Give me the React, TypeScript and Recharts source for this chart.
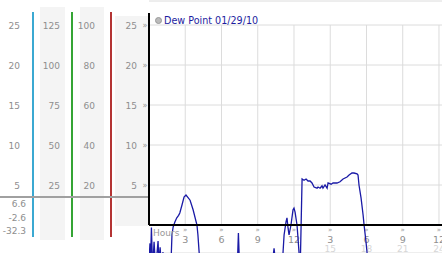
import { CartesianGrid, Line, LineChart, ReferenceLine, XAxis, YAxis } from "recharts"

// hours since midnight, dew point in the plotted unit
const hours = [
  0, 0.08, 0.13, 0.2, 0.3, 0.42, 0.55, 0.75, 0.83, 0.92, 1.02, 1.16, 1.35, 1.6, 1.82, 1.9, 2.0, 2.15,
  2.3, 2.45, 2.55, 2.73, 2.9, 3.06, 3.25, 3.4, 3.65, 3.97, 4.05, 4.14, 4.3, 5.0, 6.0, 7.0, 7.3, 7.4,
  7.5, 8.5, 9.5, 10.2, 10.35, 10.5, 11.05, 11.18, 11.34, 11.42, 11.51, 11.59, 11.75, 11.92, 12.0,
  12.09, 12.25, 12.33, 12.42, 12.52, 12.67, 12.83, 13.0, 13.16, 13.33, 13.49, 13.66, 13.91, 13.99,
  14.16, 14.32, 14.4, 14.57, 14.74, 14.82, 15.07, 15.23, 15.56, 15.81, 16.06, 16.39, 16.56, 16.8,
  16.97, 17.22, 17.3, 17.38, 17.55, 17.72, 17.8, 17.96, 18.05, 18.3, 19.5, 21.0, 22.5, 24.0,
]
const dewPoint = [
  -4.6, -2.3, -4.6, -0.3, -5.5, -2.1, -5.5, -2.0, -5.0, -2.8, -5.0, -3.4, -6.2, -7.0, -4.8, -1.25,
  -0.25, 0.4, 0.9, 1.2, 1.5, 2.5, 3.5, 3.75, 3.4, 3.1, 1.9, 0.0, -1.25, -3.2, -6.5, -9.0, -8.5, -7.0,
  -5.5, -1.0, -5.5, -7.5, -6.5, -5.0, -2.9, -5.0, -4.5, -1.25, 0.4, 0.9, -0.4, -1.25, 0.0, 1.9, 2.1,
  1.6, 0.0, -1.6, -3.5, -5.0, 5.75, 5.6, 5.75, 5.5, 5.5, 5.25, 4.75, 4.6, 4.75, 4.6, 4.9, 4.6, 5.0,
  4.6, 5.25, 5.1, 5.25, 5.25, 5.4, 5.75, 6.0, 6.25, 6.5, 6.5, 6.4, 6.25, 5.0, 3.4, 1.25, 0.0, -2.1,
  -3.5, -6.0, -9.0, -11.0, -12.0, -10.0,
]

const dewTicks = [5, 10, 15, 20, 25]
const scale2Ticks = [25, 50, 75, 100, 125]
const scale3Ticks = [20, 40, 60, 80, 100]
const hourTicks = [3, 6, 9, 12, 15, 18, 21, 24]
const readouts = ["6.6", "-2.6", "-32.3"]
const legendLabel = "Dew Point 01/29/10"

const data = hours.map((h, i) => ({ h, dp: dewPoint[i] }))

const FONT = "DejaVu Sans, Verdana, sans-serif"
const LABEL = "#8e8e8e"

function ScaleTick({ x, y, payload, marker }: any) {
  return (
    <g fontFamily={FONT}>
      <text x={x} y={y} dy={3.5} textAnchor="end" fontSize={9} fill={LABEL}>
        {payload.value}
      </text>
      {marker && (
        <text x={x + 8} y={y} dy={2.5} textAnchor="middle" fontSize={8} fill="#999">
          »
        </text>
      )}
    </g>
  )
}

function HourLabel({ viewBox, hour }: any) {
  const { x, y, height } = viewBox
  const base = y + height
  return (
    <g fontFamily={FONT}>
      <text x={x} y={base + 6.5} textAnchor="middle" fontSize={7} fill="#999">»</text>
      <text x={x} y={base + 17.5} textAnchor="middle" fontSize={9.5} fill={LABEL}>
        {hour > 12 ? hour - 12 : hour}
      </text>
      {hour > 12 && (
        <text x={x} y={base + 27} textAnchor="middle" fontSize={9} fill="#d6d6d6">
          {hour}
        </text>
      )}
    </g>
  )
}

function HoursTitle({ viewBox }: any) {
  return (
    <text x={viewBox.x + 4} y={viewBox.y + 11} fontFamily={FONT} fontSize={9} fill="#999">
      Hours
    </text>
  )
}

const box = (s: React.CSSProperties): React.CSSProperties => ({ position: "absolute", ...s })

export default function App() {
  return (
    <div style={{ position: "relative", width: 442, height: 253, overflow: "hidden", background: "#fff" }}>
      <style>{"body{margin:0}"}</style>
      {/* scale columns */}
      <div style={box({ left: 40, top: 7, width: 25, height: 233, background: "#f4f4f4" })} />
      <div style={box({ left: 80, top: 7, width: 24, height: 233, background: "#f4f4f4" })} />
      <div style={box({ left: 115, top: 16, width: 34, height: 210, background: "#f4f4f4" })} />
      <div style={box({ left: 32, top: 12, width: 2, height: 225, background: "#3ba9d2" })} />
      <div style={box({ left: 71, top: 12, width: 2, height: 225, background: "#35a535" })} />
      <div style={box({ left: 110, top: 12, width: 2, height: 225, background: "#b43434" })} />
      <div style={box({ left: 0, top: 196, width: 149, height: 2, background: "#a0a0a0" })} />
      {readouts.map((r, i) => (
        <div
          key={r}
          style={box({
            right: 442 - 26,
            top: 199 + i * 13.5,
            fontFamily: FONT,
            fontSize: 9,
            lineHeight: "11px",
            color: LABEL,
          })}
        >
          {r}
        </div>
      ))}
      <div
        style={box({
          left: 155,
          top: 15,
          fontFamily: FONT,
          fontSize: 9.6,
          lineHeight: "11px",
          color: "#1d1da0",
          whiteSpace: "nowrap",
          zIndex: 2,
        })}
      >
        <span
          style={{
            display: "inline-block",
            width: 5,
            height: 5,
            borderRadius: "50%",
            background: "#bbb",
            border: "0.5px solid #999",
            marginRight: 2,
            verticalAlign: "0px",
          }}
        />
        {legendLabel}
      </div>
      <LineChart width={442} height={253} data={data} margin={{ top: 1, right: 0, bottom: 0, left: 0 }}>
        <XAxis xAxisId="t" dataKey="h" type="number" domain={[0, 24.25]} allowDataOverflow hide />
        {/* left axes are stacked outward from the plot in id order */}
        <YAxis
          yAxisId="a"
          type="number"
          domain={[-3.5, 28]}
          allowDataOverflow
          ticks={dewTicks}
          width={38}
          axisLine={false}
          tickLine={false}
          tickSize={0}
          tickMargin={12}
          tick={<ScaleTick marker />}
        />
        <YAxis
          yAxisId="b"
          type="number"
          domain={[-14, 112]}
          allowDataOverflow
          ticks={scale3Ticks}
          width={39}
          axisLine={false}
          tickLine={false}
          tickSize={0}
          tickMargin={16}
          tick={<ScaleTick />}
        />
        <YAxis
          yAxisId="c"
          type="number"
          domain={[-17.5, 140]}
          allowDataOverflow
          ticks={scale2Ticks}
          width={39}
          axisLine={false}
          tickLine={false}
          tickSize={0}
          tickMargin={12}
          tick={<ScaleTick />}
        />
        <YAxis
          yAxisId="d"
          type="number"
          domain={[-3.5, 28]}
          allowDataOverflow
          ticks={dewTicks}
          width={33}
          axisLine={false}
          tickLine={false}
          tickSize={0}
          tickMargin={13}
          tick={<ScaleTick />}
        />
        <CartesianGrid xAxisId="t" yAxisId="a" vertical={false} stroke="#dcdcdc" />
        {hourTicks.map((h) => (
          <ReferenceLine
            key={h}
            xAxisId="t"
            yAxisId="a"
            segment={[
              { x: h, y: 0 },
              { x: h, y: 25 },
            ]}
            stroke="#dcdcdc"
            label={<HourLabel hour={h} />}
          />
        ))}
        <Line
          xAxisId="t"
          yAxisId="a"
          type="linear"
          dataKey="dp"
          stroke="#1a1aa6"
          strokeWidth={1.3}
          dot={false}
          isAnimationActive={false}
        />
        <ReferenceLine xAxisId="t" yAxisId="a" y={0} stroke="#000" strokeWidth={2} label={<HoursTitle />} />
        <ReferenceLine
          xAxisId="t"
          yAxisId="a"
          segment={[
            { x: 0, y: 0 },
            { x: 0, y: 26.5 },
          ]}
          stroke="#000"
          strokeWidth={2}
        />
      </LineChart>
    </div>
  )
}
